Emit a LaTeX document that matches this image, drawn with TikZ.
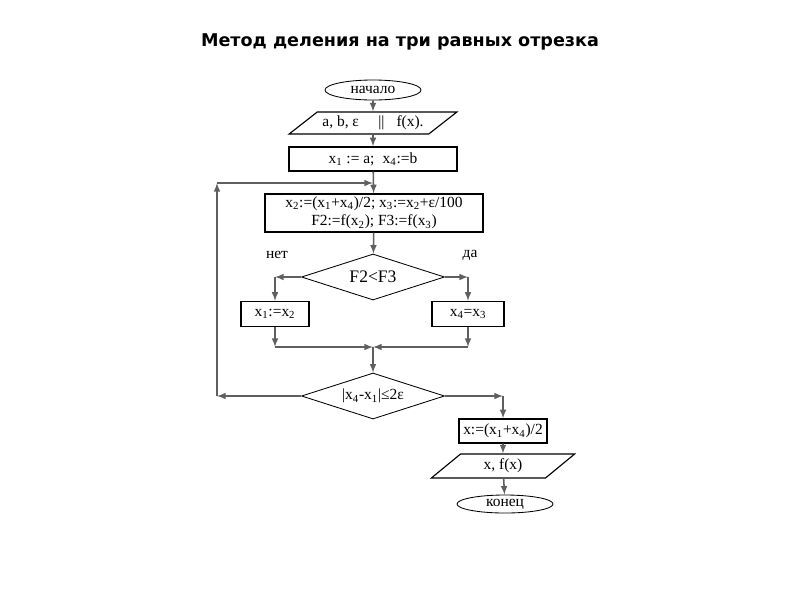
\documentclass[tikz,border=0pt]{standalone}
\usepackage{fontspec}
\setmainfont{Liberation Serif}
\newfontfamily\titlefont{DejaVu Sans}
\usetikzlibrary{shapes.geometric}
\definecolor{lineGray}{RGB}{95,95,95}
\tikzset{
  box/.style={draw, line width=1pt, inner sep=1pt},
  term/.style={draw, ellipse, line width=0.6pt, inner sep=0pt},
  io/.style={draw, trapezium, trapezium stretches=true, line width=0.8pt, inner sep=1pt},
  cond/.style={draw, diamond, aspect=3.1, line width=0.6pt, inner sep=0pt, minimum width=3.575cm, minimum height=1.15cm},
  flow/.style={draw=lineGray, line width=1.1pt, -latex},
}
\begin{document}
\begin{tikzpicture}[x=0.025cm, y=-0.025cm, font=\fontsize{11}{13}\selectfont]
        \useasboundingbox (0,0) rectangle (800,600);
        \node (title) at (400,42)[font=\titlefont\bfseries\fontsize{12.5}{15}\selectfont]{Метод деления на три равных отрезка};
        \node (start) at (373,90)[term, minimum width=2.4cm, minimum height=0.5cm]{начало};
        \node (input) at (373,123)[io, trapezium left angle=33, trapezium right angle=147, minimum width=4.2cm, minimum height=0.55cm]{a, b, ε \quad || \; f(x).};
        \node (init) at (373,159)[box, minimum width=4.2cm, minimum height=0.6cm]{x\textsubscript{1} := a;\; x\textsubscript{4}:=b};
        \node (calc) at (374,213)[box, minimum width=5.45cm, minimum height=0.95cm, align=center]{x\textsubscript{2}:=(x\textsubscript{1}+x\textsubscript{4})/2; x\textsubscript{3}:=x\textsubscript{2}+ε/100\\F2:=f(x\textsubscript{2}); F3:=f(x\textsubscript{3})};
        \node (test1) at (373,277)[cond, font=\fontsize{12.5}{15}\selectfont]{F2<F3};
        \node (no1) at (277,255){нет};
        \node (yes1) at (470,255){да};
        \node (move1) at (275,314)[box, minimum width=1.7cm, minimum height=0.625cm]{x\textsubscript{1}:=x\textsubscript{2}};
        \node (move2) at (468,314)[box, minimum width=1.8cm, minimum height=0.625cm]{x\textsubscript{4}=x\textsubscript{3}};
        \node (test2) at (373,396)[cond]{|x\textsubscript{4}-x\textsubscript{1}|≤2ε};
        \node (mid) at (503,431)[box, minimum width=2.2cm, minimum height=0.6cm]{x:=(x\textsubscript{1}+x\textsubscript{4})/2};
        \node (output) at (503,466)[io, trapezium left angle=50, trapezium right angle=130, minimum width=3.6cm, minimum height=0.6cm]{x, f(x)};
        \node (stop) at (505,504)[term, minimum width=2.4cm, minimum height=0.45cm]{конец};

        \coordinate (join) at (373,183);
        \coordinate (loopB) at (217,396);
        \coordinate (loopT) at (217,183);
        \coordinate (noC) at (275,277);
        \coordinate (yesC) at (468,277);
        \coordinate (mergeL) at (275,347);
        \coordinate (mergeR) at (468,347);
        \coordinate (merge) at (373,347);
        \coordinate (exitC) at (503,396);

        \draw[flow](start) --(input);
        \draw[flow](input) --(init);
        \draw[flow](init) --(calc);
        \draw[flow](calc) --(test1);
        \draw[flow](test1.west) --(noC);
        \draw[flow](noC) --(move1);
        \draw[flow](test1.east) --(yesC);
        \draw[flow](yesC) --(move2);
        \draw[flow](move1) --(mergeL);
        \draw[flow](mergeL) --(merge);
        \draw[flow](move2) --(mergeR);
        \draw[flow](mergeR) --(merge);
        \draw[flow](merge) --(test2);
        % back to the loop
        \draw[flow](test2.west) --(loopB);
        \draw[flow](loopB) --(loopT);
        \draw[flow](loopT) --(join);
        % exit
        \draw[flow](test2.east) --(exitC);
        \draw[flow](exitC) --(mid);
        \draw[flow](mid) --(output);
        \draw[flow](output) --(stop);

    \end{tikzpicture}
\end{document}
